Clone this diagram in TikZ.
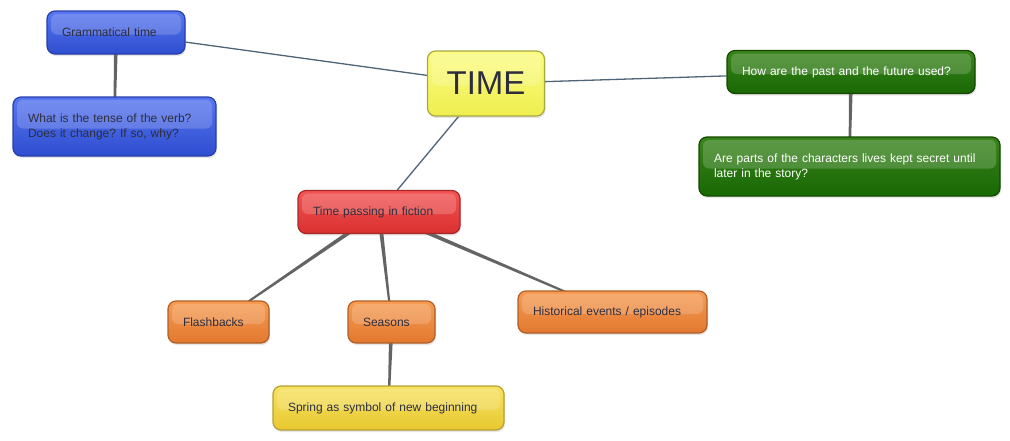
\documentclass[tikz,border=0pt]{standalone}
\usepackage{fontspec}
\setmainfont{Liberation Sans}
\usetikzlibrary{calc,shadows,backgrounds}
\frenchspacing

\definecolor{linkblue}{RGB}{80,100,120}
\definecolor{linkgray}{RGB}{100,100,100}
\definecolor{txtdark}{RGB}{45,45,60}

\tikzset{
  topic/.style={draw, line width=1.2pt, rounded corners=8pt, inner xsep=15pt, inner ysep=0pt,
    align=left, font=\fontsize{12}{15}\selectfont, text=txtdark,
    drop shadow={opacity=0.2, shadow xshift=1pt, shadow yshift=-2pt},
    path picture={\fill[white, opacity=0.18, rounded corners=6pt]
      ([xshift=4pt, yshift=-3pt]path picture bounding box.north west) rectangle
      ([xshift=-4pt, yshift=-2pt]path picture bounding box.east);}},
  bluebox/.style={topic, draw={rgb,255:red,38;green,62;blue,170}, top color={rgb,255:red,88;green,118;blue,240}, bottom color={rgb,255:red,46;green,78;blue,208}},
  greenbox/.style={topic, text=white, draw={rgb,255:red,20;green,72;blue,0}, top color={rgb,255:red,58;green,132;blue,28}, bottom color={rgb,255:red,24;green,104;blue,4}},
  redbox/.style={topic, draw={rgb,255:red,168;green,40;blue,40}, top color={rgb,255:red,242;green,84;blue,84}, bottom color={rgb,255:red,218;green,48;blue,48}},
  orangebox/.style={topic, draw={rgb,255:red,176;green,94;blue,40}, top color={rgb,255:red,246;green,156;blue,82}, bottom color={rgb,255:red,226;green,120;blue,48}},
  springbox/.style={topic, draw={rgb,255:red,184;green,160;blue,48}, top color={rgb,255:red,246;green,226;blue,96}, bottom color={rgb,255:red,232;green,200;blue,48}},
  timebox/.style={topic, inner xsep=0pt, align=center, minimum width=117pt, minimum height=65pt,
    font=\fontsize{33}{38}\selectfont, draw={rgb,255:red,168;green,168;blue,64},
    top color={rgb,255:red,252;green,252;blue,130}, bottom color={rgb,255:red,238;green,238;blue,80}},
  mainlink/.style={draw=linkblue, line width=1.3pt}
}

% tapered link, wide end at the parent
\newcommand{\taperlink}[2]{%
  \fill[linkgray] ($(#1)!2.2pt!90:(#2)$) -- ($(#1)!2.2pt!-90:(#2)$)
    -- ($(#2)!0.8pt!90:(#1)$) -- ($(#2)!0.8pt!-90:(#1)$) -- cycle;}

\begin{document}
\begin{tikzpicture}[x=1pt,y=1pt,yscale=-1,xscale=1]
  \path[use as bounding box] (0,0) rectangle (1010,440);

  % centre topic
  \node[timebox] (time) at (486,83.5) {TIME};

  % blue branch
  \node[bluebox, text width=108pt, minimum height=43pt] (gram) at (116,32.5) {Grammatical time};
  \node[bluebox, text width=173pt, minimum height=59pt] (tense) at (114.5,126.5) {What is the tense of the verb?\\Does it change? If so, why?};

  % green branch
  \node[greenbox, text width=218pt, minimum height=43pt] (pastfut) at (851,72) {How are the past and the future used?};
  \node[greenbox, text width=271pt, minimum height=59pt] (secret) at (849.5,166.5) {Are parts of the characters lives kept secret until\\later in the story?};

  % red branch
  \node[redbox, text width=132pt, minimum height=43pt] (passing) at (379,212) {Time passing in fiction};
  \node[orangebox, text width=71pt, minimum height=42pt] (flash) at (218.5,322) {Flashbacks};
  \node[orangebox, text width=57pt, minimum height=42pt] (seasons) at (391.5,322) {Seasons};
  \node[orangebox, text width=159pt, minimum height=42pt] (hist) at (612.5,312) {Historical events / episodes};
  \node[springbox, text width=201pt, minimum height=44pt] (spring) at (388.5,408) {Spring as symbol of new beginning};

  \begin{scope}[on background layer]
    %main links
    \draw[mainlink] (time) -- (gram);
    \draw[mainlink] (time) -- (pastfut);
    \draw[mainlink] (time) -- (passing);
    %sub links
    \taperlink{gram}{tense}
    \taperlink{pastfut}{secret}
    \taperlink{passing}{flash}
    \taperlink{passing}{seasons}
    \taperlink{passing}{hist}
    \taperlink{seasons}{spring}
  \end{scope}
\end{tikzpicture}
\end{document}
